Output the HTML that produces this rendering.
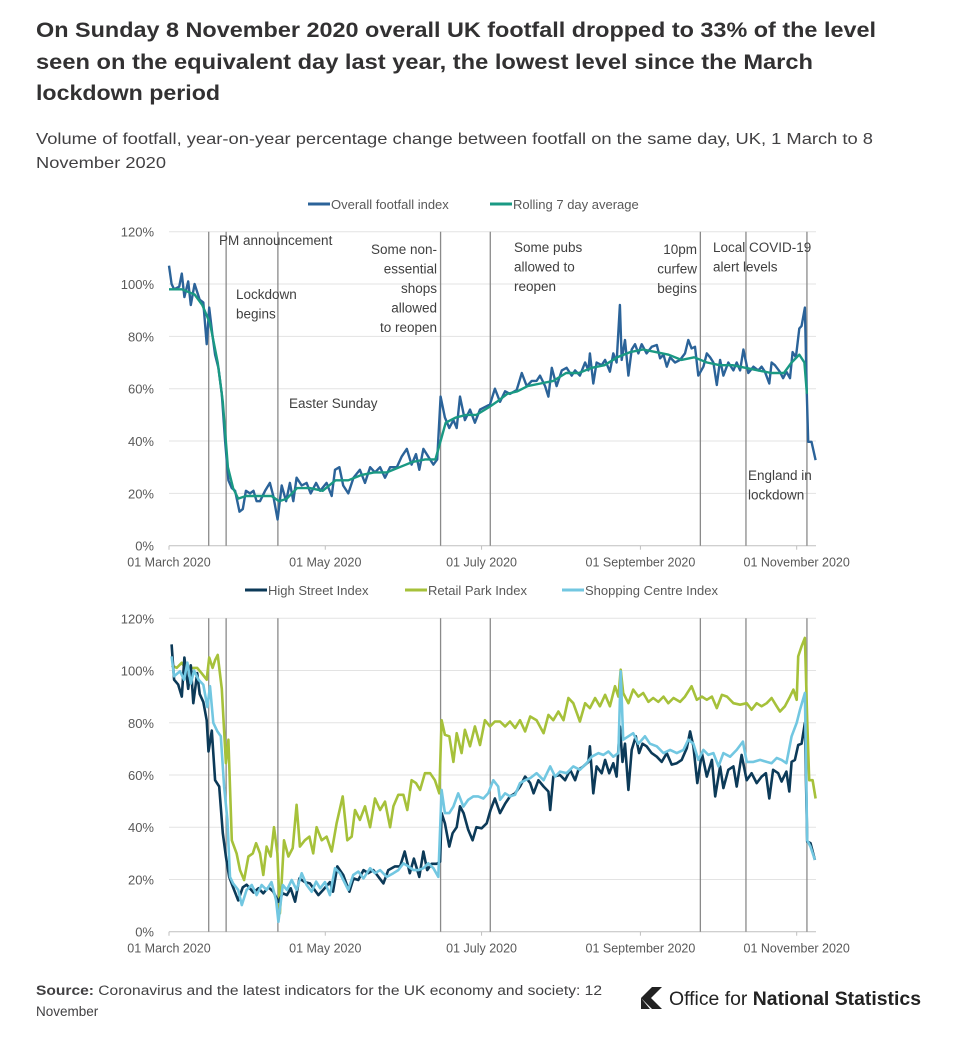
<!DOCTYPE html>
<html><head><meta charset="utf-8"><style>
body{margin:0;background:#fff;}
svg{display:block;font-family:"Liberation Sans",sans-serif;}
</style></head><body>
<svg id="root" width="955" height="1038" viewBox="0 0 955 1038">
<g font-weight="bold" font-size="21" fill="#323132">
<text x="36" y="37" textLength="840" lengthAdjust="spacingAndGlyphs">On Sunday 8 November 2020 overall UK footfall dropped to 33% of the level</text>
<text x="36" y="69" textLength="777" lengthAdjust="spacingAndGlyphs">seen on the equivalent day last year, the lowest level since the March</text>
<text x="36" y="100" textLength="184" lengthAdjust="spacingAndGlyphs">lockdown period</text>
</g>
<g font-size="16" fill="#414042">
<text x="36" y="144" textLength="837" lengthAdjust="spacingAndGlyphs">Volume of footfall, year-on-year percentage change between footfall on the same day, UK, 1 March to 8</text>
<text x="36" y="168" textLength="130" lengthAdjust="spacingAndGlyphs">November 2020</text>
</g>
<g id="c1"></g>
<g id="c2"></g>
<g font-size="13.5" fill="#414042">
<text x="36" y="995" textLength="566" lengthAdjust="spacingAndGlyphs"><tspan font-weight="bold">Source:</tspan> Coronavirus and the latest indicators for the UK economy and society: 12</text>
<text x="36" y="1016">November</text>
</g>
<g>
<path d="M640 987 L662 987 L662 1010 L640 1010 Z" fill="#fff"/>
<path d="M641 998 L652 987 L662 987 L651 998 L662 1009 L652 1009 Z M641 998 L650 1009 L641 1009 Z" fill="#222"/>
<text x="669" y="1005" font-size="19" fill="#222" textLength="252" lengthAdjust="spacingAndGlyphs">Office for <tspan font-weight="bold">National Statistics</tspan></text>
</g>
</svg>
<script>
// ---------- Chart 1 data (days since 1 March 2020) ----------
const overallDays=[0,1,2,4,5,6,7.5,8.5,10,12,13.4,14.7,15.7,17,18,19.3,20.6,21.9,23.2,24.5,25.8,27.5,28.8,30,31.6,33,34.2,35.5,37.5,39.4,40.7,42.4,44,45.7,47.2,48.5,49.8,51.8,53.7,55.3,57.4,59,61.5,63.5,64.8,66.5,68,70,72,74.5,76.5,78.5,80.4,82.4,84.3,86.3,88.9,90.8,92.8,94.7,96.4,97.7,99.3,101.2,103.2,104.7,106,107.7,109.4,111,112.3,113.6,115.5,117.5,119.4,121.4,123.3,125.3,127.2,129.2,131.2,133.1,135.7,137.7,139.6,141.6,143.5,144.8,146.8,148.1,149.4,151.3,153.3,155.2,157.2,158.5,160.4,162.4,163.7,164.3,165.6,166.9,168.9,170.2,172.1,173.4,174.7,176,176.7,178,179.3,180.6,181.9,183.2,184.5,186.4,188.4,190.4,191.7,193,194.3,195.6,197.5,199.5,201.4,202.7,204,205.3,206.6,208.6,209.9,211.2,212.5,213.8,215.1,216.4,218.3,220.3,221.6,222.9,224.2,226.1,228.1,230,231.3,232.6,234.3,235.2,236.5,238.4,239.7,241,242.4,243.4,244.7,246,246.9,248.2,248.9,249.5,250.8,252.4];
const overallVals=[107,100,98,99,104,95,101,92,100,94,93,77,91,80,73,68,58,40,25,22,21,13,14,21,20,21,17,17,21,24,19,10,23,17,24,17,26,23,24,20,24,21,24,19,29,30,23,20,26,29,24,30,28,30,26,30,30,34,37,31,35,29,37,34,31,33,57,49,45,48,45,57,48,52,47,52,53,54,60,55,59,58,59.5,66,61,63,63,65,61,57,68,61,67,68,65,67,65,70,67,73.5,62,70,69,71,66.5,73.5,70,92,71,78.6,65,75,77,73.5,77,73.5,76,76.7,71.6,73,68.4,72,70,71,73.5,78.6,75.4,76,65,68.4,73.5,72,70,61.4,71,65,70,67,70,67,75,66,68.4,67,68.4,66.5,62,70,69,66.5,64,66.5,64,74,72,83,84,91,59.5,39.7,39.7,32.7];
const rollingDays=[0,5,10,13,16,19,21,23,25,27,30,35,40,43,46,50,55,60,65,70,75,80,85,90,95,100,104,106,108,112,116,120,125,128,132,136,140,145,150,155,160,165,170,175,180,185,190,195,200,205,210,215,220,225,230,235,240,243,246,248,249];
const rollingVals=[98,98,96,92,85,70,55,30,22,18,19,19,19,17,18,22,22,21,25,25,27,28,28,30,32,33,33,40,47,49,50,50,53,55,58,59,61,62,63,66,66,68,69,72,74,75,74,73,71,72,70,69,69,68,67,66,66,70,73,70,58];
// ---------- Chart 2 data ----------
const highDays=[1,2,3.6,5,6,7.5,8.5,9.5,11,12,13.4,14.7,15.4,16.7,18,19.6,21,22.2,23.5,25,27,28.8,30.3,33,34.9,36.8,38.8,40.7,42.7,44.4,46,47.5,49.2,50.9,53,55,58.3,60.2,62.8,64,65.7,68,70.4,72,73.9,75.9,77.8,79.8,83.7,85.6,88.2,90.2,92,94,95.6,97.7,99.3,100.8,102.5,104.5,105.8,106.4,107.7,109.4,110.7,112.3,113.6,115,116.8,118.5,120,122,124,125.5,127.2,129.2,131.2,133.1,135.1,137,139,141,142.3,144.2,146.2,148.1,148.8,150,152.6,154.6,156.6,158.5,159.8,161.7,163.7,164.3,165.6,166.9,168.9,170.2,171.8,173.4,174.7,176,177,178,179.3,180.6,182.2,183.5,184.8,186.4,188.4,190.4,192.3,194.3,196.2,198.2,200.1,202.1,203.4,204.7,206.2,208,209.9,211.9,213.2,215.1,216.4,218.3,220.3,221.6,223.5,225.5,227.4,229.4,231.3,233,234.3,235.8,237.8,239.1,241,242.1,243,244.3,245.6,246.9,248.2,249.1,250.4,252.1];
const highVals=[110,96.5,94.6,90,105,93,102,87.5,99,91,88,81,69,77,58,55.6,37.7,28.8,21,17,12,17,18,15,16.6,14.7,17,15.3,11.5,14.7,14,16.6,11.5,20.4,19,18.5,14,16,19,15.3,25,21.7,15.3,20.4,19.8,23.6,22.4,23.6,18.5,23.6,25,25,30.7,22.4,28,21,30.7,23.6,26,26,26.8,45.4,41.5,32.6,37.7,40,48,45.4,39,35,40,39.6,41.5,46.6,51,45.4,49,51.8,53,55.6,59.4,56.9,53,58,55.6,53.7,46.6,59.4,60,58,62,58,62,63.3,65,71,53,63.3,60.7,65.8,60.7,64.5,59.4,78.6,65,72,54.3,69.6,74.8,68.4,72,71,68.4,67,65,68.4,64,64.5,65.8,70.3,76.7,71,56.9,68.4,59.4,65.8,51.8,63.3,55,62,63.3,55.6,67.7,58,60.7,56.9,59.4,60.7,51,62,60.7,57.5,61.3,53.7,65,65.8,71.5,72,80,34.5,33.9,27.5];
const retailDays=[1,3,5,6.9,8.8,11,12.7,14.7,15.7,17,18,19,20.6,22.2,23.2,24.5,26.4,27.7,29.3,31,32.7,34,35.5,36.8,38.1,39.7,41,42.3,43.3,44.9,46.6,48.3,49.8,51.1,53,54.8,56.3,57.6,59.6,61.5,63.5,65.4,67.8,69.6,71.3,72.6,74.5,76.5,78.5,80.4,82.4,84.3,86.3,87.6,89.5,91.5,93,94.7,96.4,98,99.9,101.9,103.8,105.5,106.4,107.7,109.4,111,112.3,114.2,115.5,117.5,119.4,121.4,123.3,125.3,127.2,129.2,131.2,133.1,135.1,137,139,141,143.5,146.2,148.1,150,152,154,155.9,157.8,160.4,162.4,164.3,166.3,168.2,170.2,172.1,174.1,175.4,176.3,177.3,179.3,181.2,183.2,185.1,187.1,189,191,193,194.9,196.9,199.5,201.4,204,206,208,209.9,211.9,213.8,215.8,217.8,220.3,222.9,225.5,227.4,229.4,231.3,233.3,235.2,237.2,238.5,240.4,242.4,243.7,245,245.6,246.9,248.2,249.1,249.9,251.2,252.4];
const retailVals=[102,101,103,100,101,101,99,96.5,105,101,104,106,93,64.5,73.5,35,30,23.6,19.8,28.8,30,33.9,30,21.7,32.6,28.8,40,30,7,35,28.8,32,48.6,32.6,35,36.4,30,40,35,36.4,30.7,41.5,51.8,35,36.4,46.6,42.8,48,40,51,46.6,49.8,40,48,52.4,52.4,46.6,58,56.9,54.3,60.7,60.7,58,53,81,75.4,74.8,65,76,68.4,77.3,71,78.6,71.5,81,78.6,80.5,80.5,78.6,80.5,78,81,76.7,82.4,81,76,83,81,84.3,81,89.5,87.5,80.5,87.5,85.6,89.5,86.3,90.7,86.3,94,90,100.3,91.4,87.5,92.7,90,91.4,88,89.5,88,90,87.5,89.5,88,90,94,88.8,90,88.8,90,85.6,90.7,90,87.5,86.9,87.5,85,87.5,86.3,87.5,89.5,86.3,84.3,86.3,90,92.7,88.8,105.4,109.3,112.5,81,58,58,51];
const shopDays=[1,2,4.3,5.9,7.2,8.5,9.8,11.5,13.4,15,16,17.3,18.9,20.2,21.5,22.8,23.8,25,27,28.4,30.3,32.3,34.2,36.2,38.1,40,41.8,42.7,44.4,46,47.9,49.8,51.8,53.7,55.7,57.4,59,60.9,62.8,64.8,66.7,70,71.9,73.9,75.9,78.5,80.4,82.4,85,87.6,89.5,91.5,93.4,95.4,97.3,99.3,101.2,103.2,105.1,106.4,107.7,109.4,111,112.9,114.9,116.8,118.8,120.7,122.7,124.6,126.6,128.5,129.2,131.2,133.1,135.1,137,139,141,143.5,146.2,148.8,150.7,152.6,155.2,157.8,160.4,163,165,167.6,169.5,171.5,173.4,175.4,176.3,177.3,179.3,181.2,183.2,185.8,187.7,190.4,193,195.6,198.2,200.8,202.7,204.7,206.6,208.6,210.5,212.5,214.5,216.4,219,221.6,224,225.5,228.1,230.7,233.3,235.2,237.2,239.1,241,243,245,246.3,248.2,249.1,250.4,252.1];
const shopVals=[105.4,97.8,99.7,96.5,103,95,100,96.5,94.6,86,94,80,76.7,74.8,55.6,42.8,21,18.5,16,10.2,16,17.9,14,17.9,16,19,12,3.8,17.9,16,19.8,16,22.4,17.9,15.3,19.2,16.6,19,14,24.3,22.4,16,21.7,23,20.4,24.3,22.4,23.6,21,22.4,23.6,26.2,25,23.6,23.6,24.3,26.2,24.3,21,54.3,45.4,45.4,47.9,53,47.9,50.5,51.8,51.8,51,53,58,55.6,50.5,53,51.8,52.4,56.9,58,58.8,60.7,58,63.3,59.4,61.3,60.7,63.3,62,64.5,67,68.4,67.7,69,67,68.4,99.7,73.5,74.8,76,72,74.8,72,71,68.4,69.6,68.4,69.6,73.5,72,65.8,69.6,67.7,68.4,63.3,68.4,67,69.6,72.8,65,65,65.8,65,64.5,66.5,65.8,64.5,74.8,80,85,91.4,35,32.6,27.5];
// event markers (days since 1 March)
const eventDays=[15.5,22.3,42.5,106,125.4,207.4,225.2,249];
const yTicks=[0,20,40,60,80,100,120];
const xTickDays=[0,61,122,184,245];
const xTickLabels=["01 March 2020","01 May 2020","01 July 2020","01 September 2020","01 November 2020"];

const NS="http://www.w3.org/2000/svg";
const X0=169,PX=2.562,XEND=816;
function xs(d){return X0+d*PX;}
function mk(p,tag,attrs,txt){const e=document.createElementNS(NS,tag);for(const k in attrs)e.setAttribute(k,attrs[k]);if(txt!==undefined)e.textContent=txt;p.appendChild(e);return e;}

function drawAxes(g,y0,y120){
  const ys=v=>y0-(v/120)*(y0-y120);
  yTicks.forEach(t=>{
    const l=mk(g,'line',{x1:X0,x2:XEND,y1:ys(t),y2:ys(t),stroke:t===0?'#bfbfbf':'#e3e3e3','stroke-width':1});
    
    
    const tx=mk(g,'text',{x:154,y:ys(t)+5,'text-anchor':'end','font-size':13,fill:'#595959'},t+'%');
    
    
  });
  xTickDays.forEach((d,i)=>{
    mk(g,'line',{x1:xs(d),x2:xs(d),y1:y0,y2:y0+4,stroke:'#bfbfbf'});
    const tx=mk(g,'text',{x:xs(d),y:y0+21,'text-anchor':'middle','font-size':12.5,fill:'#595959'},xTickLabels[i]);
    
    
  });
  eventDays.forEach(d=>{
    const l=mk(g,'line',{x1:xs(d),x2:xs(d),y1:y120,y2:y0,stroke:'#8a8a8a','stroke-width':1.3});
    
    
  });
  return ys;
}
function drawLine(g,days,vals,ys,color,w,name){
  const p=mk(g,'polyline',{points:days.map((d,i)=>xs(d).toFixed(1)+','+ys(vals[i]).toFixed(1)).join(' '),fill:'none',stroke:color,'stroke-width':w,'stroke-linejoin':'round'});
  
  
}
function legend(g,items,y){
  items.forEach(it=>{
    mk(g,'line',{x1:it[0],x2:it[0]+22,y1:y,y2:y,stroke:it[2],'stroke-width':3});
    const t=mk(g,'text',{x:it[0]+23,y:y+5,'font-size':13,fill:'#595959'},it[1]);
    
    
  });
}
function note(g,x,y,lines,anchor){
  const t=mk(g,'text',{x:x,y:y,'font-size':13.5,fill:'#404040','text-anchor':anchor||'start'});
  
  
  lines.forEach((s,i)=>mk(t,'tspan',{x:x,dy:i?19.5:0},s));
}
// chart 1
const c1=document.getElementById('c1');
const ys1=drawAxes(c1,545.7,231.7);
legend(c1,[[308,'Overall footfall index','#2b6399'],[490,'Rolling 7 day average','#1a9983']],204);
note(c1,219,245,['PM announcement']);
note(c1,236,299,['Lockdown','begins']);
note(c1,289,408,['Easter Sunday']);
note(c1,437,254,['Some non-','essential','shops','allowed','to reopen'],'end');
note(c1,514,252,['Some pubs','allowed to','reopen']);
note(c1,697,254,['10pm','curfew','begins'],'end');
note(c1,713,252,['Local COVID-19','alert levels']);
note(c1,748,480,['England in','lockdown']);
drawLine(c1,overallDays,overallVals,ys1,'#2b6399',2.4,'overall-footfall-line');
drawLine(c1,rollingDays,rollingVals,ys1,'#1a9983',2.4,'rolling-average-line');
// chart 2
const c2=document.getElementById('c2');
const ys2=drawAxes(c2,931.7,618.3);
legend(c2,[[245,'High Street Index','#0c3a58'],[405,'Retail Park Index','#a6c13a'],[562,'Shopping Centre Index','#72c7e1']],590);
drawLine(c2,retailDays,retailVals,ys2,'#a6c13a',2.6,'retail-park-line');
drawLine(c2,highDays,highVals,ys2,'#0c3a58',2.6,'high-street-line');
drawLine(c2,shopDays,shopVals,ys2,'#72c7e1',2.6,'shopping-centre-line');
</script>
</body></html>
